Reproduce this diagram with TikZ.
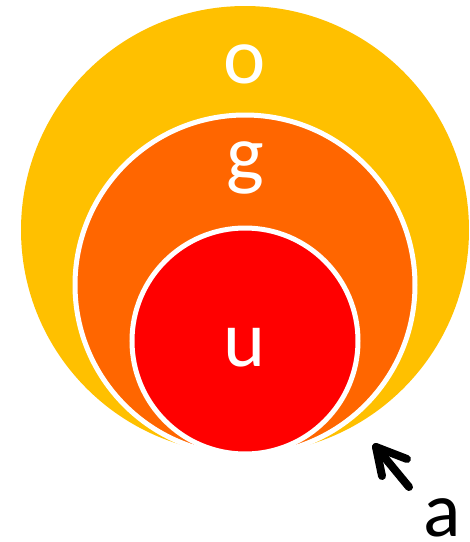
\documentclass[tikz,border=0pt]{standalone}
\usepackage{fontspec}
\setmainfont{Carlito}
\begin{document}
\begin{tikzpicture}[x=1pt,y=-1pt,
  lbl/.style={text=white,font=\fontsize{80}{80}\selectfont,inner sep=0pt},
  ring/.style={draw=white,line width=5pt}]
\useasboundingbox (0,0) rectangle (470,542);
\definecolor{cy}{RGB}{255,192,0}
\definecolor{co}{RGB}{255,102,0}
\definecolor{cr}{RGB}{255,0,0}
\fill[cy] (245,230) circle (224);
\filldraw[ring,fill=co] (245,285) circle (170);
\filldraw[ring,fill=cr] (245,341) circle (113);
\node[lbl,anchor=base] (o) at (245,83) {o};
\node[lbl,anchor=base] (g) at (245,180) {g};
\node[lbl,anchor=base] (u) at (245,366) {u};
\node[font=\fontsize{78}{78}\selectfont,inner sep=0pt,anchor=base] (a) at (442,536) {a};
\coordinate (tip) at (376,447);
\coordinate (tail) at (409,487);
\draw[line width=8pt,line cap=round,line join=round] (tail) -- (tip);
\draw[line width=8pt,line cap=round,line join=round] (382,476) -- (tip) -- (407,459);
\end{tikzpicture}
\end{document}
